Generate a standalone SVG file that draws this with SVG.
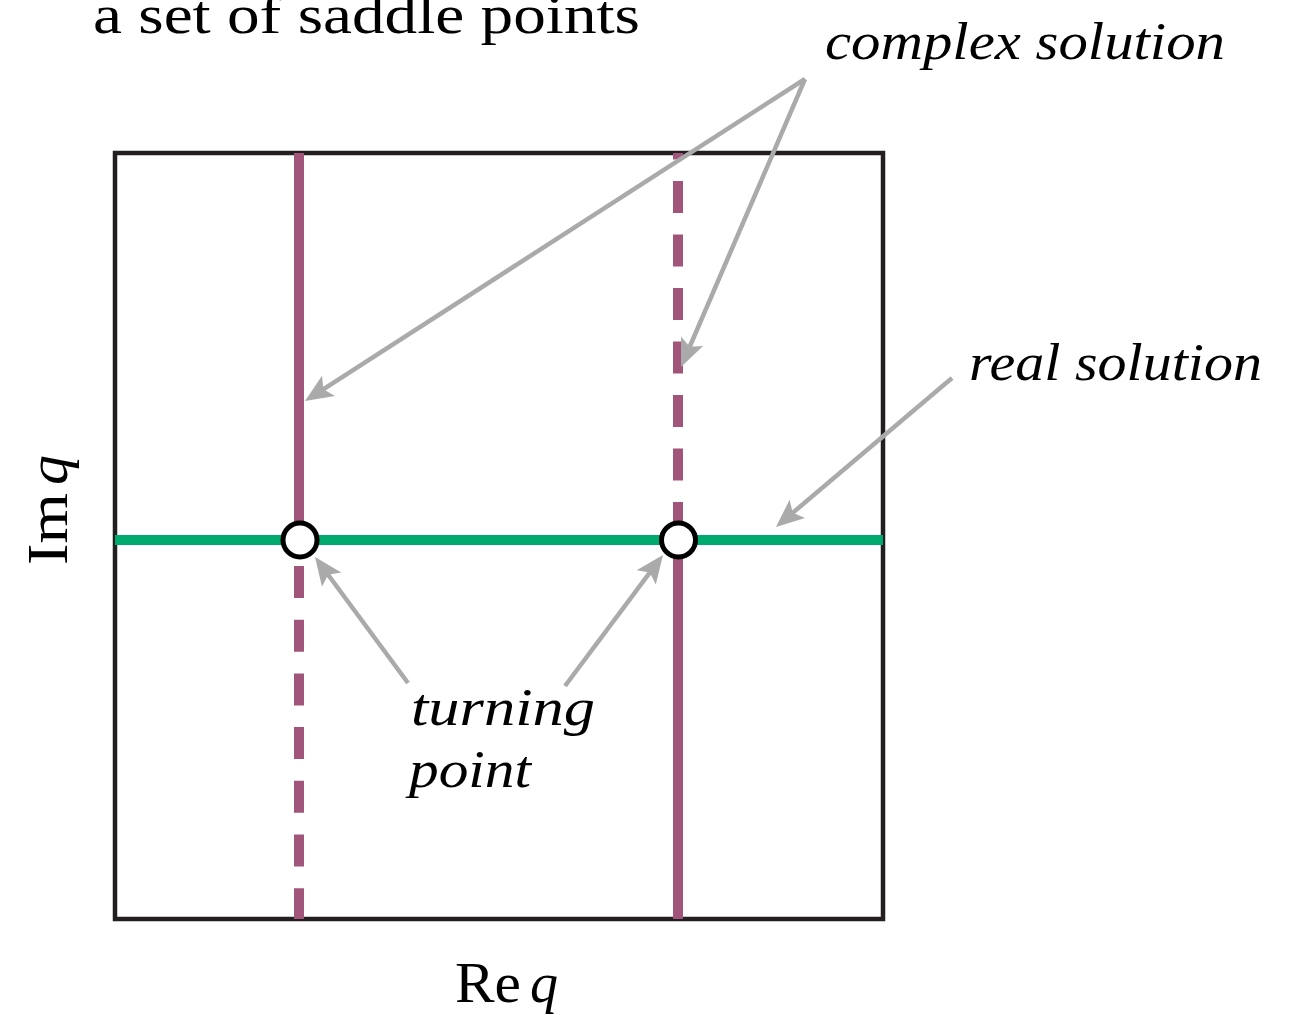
<svg xmlns="http://www.w3.org/2000/svg" width="1290" height="1015" viewBox="0 0 1290 1015">
<style>
.lbl{font-family:"Liberation Serif","DejaVu Serif",serif;fill:#000}
.it{font-style:italic}
.purple{stroke:#a1557a;stroke-width:10;fill:none}
.arrow{stroke:#aaaaaa;stroke-width:4.5;fill:none;marker-end:url(#ah)}
</style>
<defs>
<marker id="ah" viewBox="-12 -14 34 28" markerWidth="34" markerHeight="28" refX="0" refY="0" orient="auto" markerUnits="userSpaceOnUse">
<path d="M18,0 L-10,-12 L-4,0 L-10,12 Z" fill="#aaaaaa"/>
</marker>
</defs>
<rect width="1290" height="1015" fill="#fff"/>
<g id="frame">
<rect x="115" y="153" width="768" height="766" fill="none" stroke="#231f20" stroke-width="4.5"/>
</g>
<g id="curves">
<line class="purple" x1="299" y1="153" x2="299" y2="540"/>
<line class="purple" x1="299" y1="566" x2="299" y2="919" stroke-dasharray="32 21.7"/>
<line class="purple" x1="678" y1="534" x2="678" y2="153" stroke-dasharray="32 21.5"/>
<line class="purple" x1="678" y1="540" x2="678" y2="919"/>
<line x1="115" y1="540" x2="883" y2="540" stroke="#00aa6e" stroke-width="10"/>
</g>
<g id="turning-left"><circle cx="300" cy="540" r="17" fill="#fff" stroke="#000" stroke-width="5"/></g>
<g id="turning-right"><circle cx="678.5" cy="540" r="17" fill="#fff" stroke="#000" stroke-width="5"/></g>
<g id="connectors">
<line class="arrow" x1="805" y1="79" x2="320.1" y2="391.3"/>
<line class="arrow" x1="805" y1="79" x2="688.1" y2="350.5"/>
<line class="arrow" x1="408" y1="683" x2="325.7" y2="571.5"/>
<line class="arrow" x1="565" y1="686" x2="652.2" y2="569.4"/>
<line class="arrow" x1="952" y1="378" x2="789.7" y2="515.4"/>
</g>
<g id="labels">
<text class="lbl" x="93" y="33" font-size="54" textLength="547" lengthAdjust="spacingAndGlyphs">a set of saddle points</text>
<text class="lbl it" x="825" y="59" font-size="52" textLength="400" lengthAdjust="spacingAndGlyphs">complex solution</text>
<text class="lbl it" x="969" y="380" font-size="52" textLength="293" lengthAdjust="spacingAndGlyphs">real solution</text>
<text class="lbl it" x="411" y="725" font-size="52" textLength="184" lengthAdjust="spacingAndGlyphs">turning</text>
<text class="lbl it" x="409" y="787" font-size="52" textLength="122" lengthAdjust="spacingAndGlyphs">point</text>
<text class="lbl" x="455" y="1002" font-size="56" textLength="66" lengthAdjust="spacingAndGlyphs">Re</text>
<text class="lbl it" x="530" y="1002" font-size="56" textLength="28" lengthAdjust="spacingAndGlyphs">q</text>
<text class="lbl" transform="translate(67,565) rotate(-90)" font-size="56" textLength="72" lengthAdjust="spacingAndGlyphs">Im</text>
<text class="lbl it" transform="translate(67,485) rotate(-90)" font-size="56" textLength="30" lengthAdjust="spacingAndGlyphs">q</text>
</g>
</svg>
